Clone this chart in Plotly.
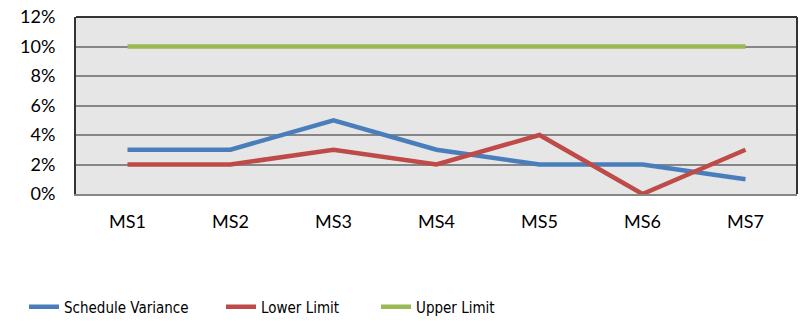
import plotly.graph_objects as go

categories = ["MS1", "MS2", "MS3", "MS4", "MS5", "MS6", "MS7"]
schedule_variance = [0.03, 0.03, 0.05, 0.03, 0.02, 0.02, 0.01]
lower_limit = [0.02, 0.02, 0.03, 0.02, 0.04, 0.00, 0.03]
upper_limit = [0.10, 0.10, 0.10, 0.10, 0.10, 0.10, 0.10]
y_ticks = [0, 0.02, 0.04, 0.06, 0.08, 0.10, 0.12]
y_tick_labels = ["0%", "2%", "4%", "6%", "8%", "10%", "12%"]

W, H = 802, 321
tick_font = dict(family="Lato, Carlito, Calibri, sans-serif", size=18, color="#000000")
legend_font = dict(family="DejaVu Sans Condensed, Liberation Sans Narrow, Lato",
                   size=15, color="#000000")

series = [
    ("Schedule Variance", schedule_variance, "#4a7ebb", "legend", 24),
    ("Lower Limit", lower_limit, "#be4b48", "legend2", 221),
    ("Upper Limit", upper_limit, "#98b954", "legend3", 376),
]

fig = go.Figure()
for name, values, color, legend_id, _ in series:
    fig.add_trace(go.Scatter(
        x=categories, y=values, name=name, mode="lines",
        line=dict(color=color, width=4.5), legend=legend_id,
    ))

legend_common = dict(
    orientation="h", xref="container", yref="container",
    yanchor="middle", y=1 - 307 / H, xanchor="left",
    bgcolor="rgba(0,0,0,0)", font=legend_font,
)
layout_legends = {}
for _, _, _, legend_id, x_px in series:
    layout_legends[legend_id] = dict(legend_common, x=x_px / W)

fig.update_layout(
    width=W, height=H,
    margin=dict(l=76, r=5, t=14, b=126.5),
    paper_bgcolor="#ffffff",
    plot_bgcolor="#e6e6e6",
    showlegend=True,
    **layout_legends,
)

fig.update_xaxes(
    type="category", range=[-0.5, 6.5],
    showgrid=False, zeroline=False,
    showline=True, linecolor="#868686", linewidth=2,
    ticks="", tickfont=tick_font, ticklabelstandoff=10,
)
fig.update_yaxes(
    range=[0, 0.12], tickvals=y_ticks, ticktext=y_tick_labels,
    showgrid=True, gridcolor="#868686", gridwidth=2,
    zeroline=False, showline=True, linecolor="#333333", linewidth=2,
    ticks="", tickfont=tick_font, ticklabelstandoff=15,
)

# dark frame on the top and right edges of the plot area
fig.add_shape(type="line", xref="paper", yref="paper", x0=0, x1=1, y0=1, y1=1,
              line=dict(color="#333333", width=2))
fig.add_shape(type="line", xref="paper", yref="paper", x0=1, x1=1, y0=0, y1=1,
              line=dict(color="#333333", width=2))

fig.write_html("out.html")
